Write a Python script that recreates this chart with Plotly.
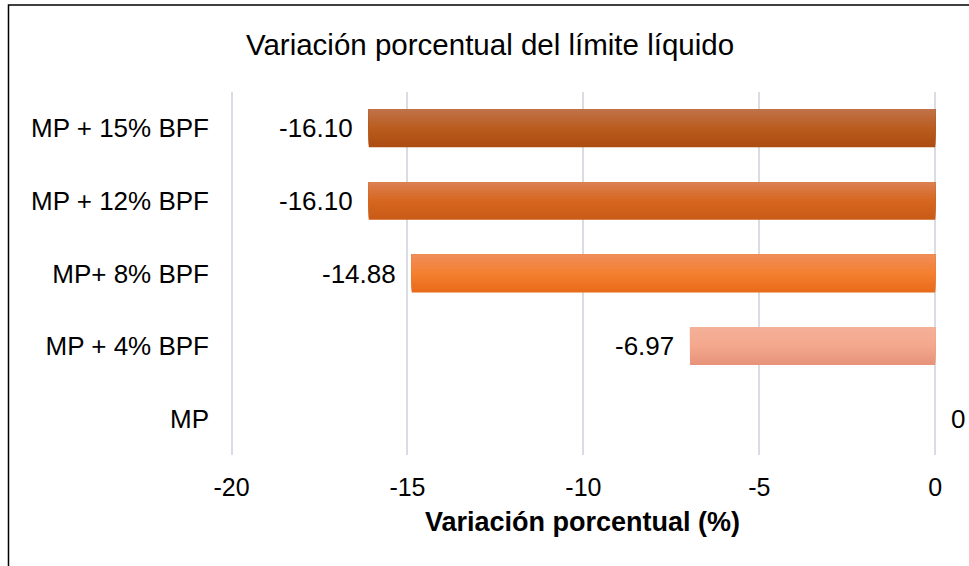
import plotly.graph_objects as go

categories = ["MP + 15% BPF", "MP + 12% BPF", "MP+ 8% BPF", "MP + 4% BPF", "MP"]
values = [-16.10, -16.10, -14.88, -6.97, 0.0]
value_labels = ["-16.10", "-16.10", "-14.88", "-6.97", "0"]
x_ticks = [-20, -15, -10, -5, 0]

# vertical gradient stops per bar: (top, middle, bottom)
grad_top = [(192, 114, 74), (220, 128, 82), (240, 140, 88), (244, 176, 152), (255, 255, 255)]
grad_mid = [(186, 92, 30), (214, 103, 32), (244, 128, 48), (244, 168, 140), (255, 255, 255)]
grad_bot = [(172, 76, 16), (200, 90, 22), (232, 106, 26), (230, 146, 122), (255, 255, 255)]

FONT = "Liberation Sans, Arial, sans-serif"
BAR_W = 0.52
N_SLICES = 24


def lerp(a, b, t):
    return tuple(round(a[k] + (b[k] - a[k]) * t) for k in range(3))


def grad_color(i, t):
    # t: 0 = bottom, 1 = top
    if t < 0.5:
        c = lerp(grad_bot[i], grad_mid[i], t / 0.5)
    else:
        c = lerp(grad_mid[i], grad_top[i], (t - 0.5) / 0.5)
    return "rgb(%d,%d,%d)" % c


fig = go.Figure()
sw = BAR_W / N_SLICES
for s in range(N_SLICES):
    t = (s + 0.5) / N_SLICES
    fig.add_trace(go.Bar(
        y=categories, x=values, orientation="h",
        marker=dict(color=[grad_color(i, t) for i in range(len(categories))],
                    line=dict(width=0)),
        width=BAR_W - s * sw, offset=-BAR_W / 2 + s * sw,
        hoverinfo="skip", showlegend=False,
    ))

for c, v, lab in zip(categories, values, value_labels):
    fig.add_annotation(
        x=v, y=c, xref="x", yref="y",
        text=lab,
        showarrow=False,
        xanchor="right" if v < 0 else "left",
        xshift=-14 if v < 0 else 14,
        font=dict(family=FONT, size=26, color="#000000"),
    )

# outer border
fig.add_shape(type="rect", xref="paper", yref="paper",
              x0=-0.3096, x1=1.3, y0=-0.5, y1=1.2397,
              line=dict(color="#000000", width=1.5), fillcolor="rgba(0,0,0,0)",
              layer="below")

fig.update_layout(
    width=969, height=566,
    margin=dict(l=228, r=32, t=92, b=111),
    paper_bgcolor="#FFFFFF", plot_bgcolor="#FFFFFF",
    font=dict(family=FONT, size=25, color="#000000"),
    barmode="overlay",
    title=dict(text="Variación porcentual del límite líquido",
               x=490 / 969, xref="container", xanchor="center",
               y=1 - 45 / 566, yref="container", yanchor="middle",
               font=dict(family=FONT, size=29.5, color="#000000")),
    xaxis=dict(range=[-20.1, 0.05], tickvals=x_ticks, ticktext=[str(t) for t in x_ticks],
               showgrid=True, gridcolor="#D9DDE3", gridwidth=1.5,
               zeroline=False, showline=False, ticks="",
               ticklabelstandoff=15,
               tickfont=dict(family=FONT, size=25, color="#000000"),
               title=dict(text="<b>Variación porcentual (%)</b>", standoff=12,
                          font=dict(family=FONT, size=27, color="#000000"))),
    yaxis=dict(categoryorder="array", categoryarray=categories[::-1],
               showgrid=False, zeroline=False, showline=False, ticks="",
               ticklabelstandoff=18,
               tickfont=dict(family=FONT, size=26, color="#000000")),
)

fig.write_html("out.html", config={"displayModeBar": False},
               post_script="document.body.style.margin='0';document.body.style.overflow='hidden';")
